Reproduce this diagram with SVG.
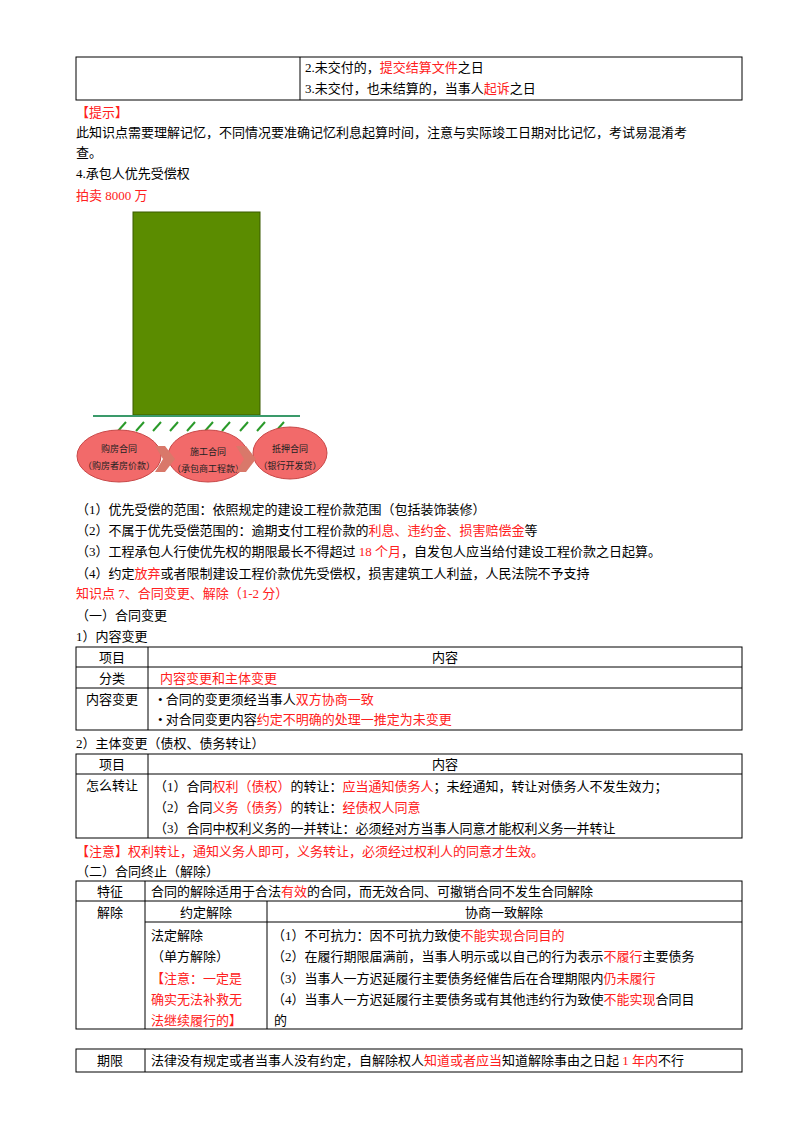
<svg xmlns="http://www.w3.org/2000/svg" width="800" height="1132" viewBox="0 0 800 1132">
<style>
text{font-family:"Liberation Serif","Noto Sans CJK SC",serif;font-size:13px;fill:#000}
.r{fill:#ff2020}
.s{font-family:"Noto Sans CJK SC",sans-serif;font-size:9px;fill:#222}
.b{fill:none;stroke:#000;stroke-width:1}
.h{stroke:#2a9a2a;stroke-width:2}
.e{fill:#f26a6a;stroke:#c84848;stroke-width:1}
.c{fill:#d9786a}
</style>
<rect width="800" height="1132" fill="#fff"/>
<g id="table0">
<rect class="b" x="76" y="57" width="666" height="43"/>
<line class="b" x1="300" y1="57" x2="300" y2="100"/>
<text x="305" y="72">2.未交付的，<tspan class="r">提交结算文件</tspan>之日</text>
<text x="305" y="93">3.未交付，也未结算的，当事人<tspan class="r">起诉</tspan>之日</text>
</g>
<text x="76" y="117" class="r">【提示】</text>
<text x="76" y="137">此知识点需要理解记忆，不同情况要准确记忆利息起算时间，注意与实际竣工日期对比记忆，考试易混淆考</text>
<text x="76" y="157">查。</text>
<text x="76" y="178">4.承包人优先受偿权</text>
<text x="76" y="200" class="r">拍卖 8000 万</text>
<g id="building"><rect x="133" y="212" width="127" height="203" fill="#5b8c00" stroke="#3a5a00"/></g>
<g id="ground">
<line x1="93" y1="416" x2="300" y2="416" stroke="#3a9a6a" stroke-width="2"/>
<g class="h">
<line x1="118" y1="431" x2="126" y2="422"/><line x1="136" y1="431" x2="144" y2="422"/><line x1="153" y1="431" x2="161" y2="422"/><line x1="170" y1="431" x2="178" y2="422"/><line x1="187" y1="431" x2="195" y2="422"/><line x1="205" y1="431" x2="213" y2="422"/><line x1="222" y1="431" x2="230" y2="422"/><line x1="240" y1="431" x2="248" y2="422"/><line x1="257" y1="431" x2="265" y2="422"/><line x1="276" y1="431" x2="284" y2="422"/>
</g>
</g>
<g id="n1"><ellipse class="e" cx="119" cy="456" rx="42" ry="26"/><text class="s" x="119" y="452" text-anchor="middle">购房合同</text><text class="s" x="119" y="469" text-anchor="middle">（购房者房价款）</text></g>
<g id="n2"><ellipse class="e" cx="208" cy="456" rx="40" ry="26"/><text class="s" x="208" y="455" text-anchor="middle">施工合同</text><text class="s" x="208" y="472" text-anchor="middle">（承包商工程款）</text></g>
<g id="n3"><ellipse class="e" cx="290" cy="453" rx="37" ry="26"/><text class="s" x="290" y="452" text-anchor="middle">抵押合同</text><text class="s" x="290" y="469" text-anchor="middle">（银行开发贷）</text></g>
<g id="connectors">
<polygon class="c" points="155,446 165,446 175,459 165,472 155,472 163,459"/>
<polygon class="c" points="236,446 246,446 256,459 246,472 236,472 244,459"/>
</g>
<text x="76" y="514">（1）优先受偿的范围：依照规定的建设工程价款范围（包括装饰装修）</text>
<text x="76" y="535">（2）不属于优先受偿范围的：逾期支付工程价款的<tspan class="r">利息、违约金、损害赔偿金</tspan>等</text>
<text x="76" y="556">（3）工程承包人行使优先权的期限最长不得超过 <tspan class="r">18 个月</tspan>，自发包人应当给付建设工程价款之日起算。</text>
<text x="76" y="578">（4）约定<tspan class="r">放弃</tspan>或者限制建设工程价款优先受偿权，损害建筑工人利益，人民法院不予支持</text>
<text x="76" y="598" class="r">知识点 7、合同变更、解除（1-2 分）</text>
<text x="76" y="620">（一）合同变更</text>
<text x="76" y="641">1）内容变更</text>
<g id="table1">
<rect class="b" x="76" y="647" width="666" height="83"/>
<line class="b" x1="76" y1="667" x2="742" y2="667"/><line class="b" x1="76" y1="688" x2="742" y2="688"/>
<line class="b" x1="148" y1="647" x2="148" y2="730"/>
<text x="112" y="662" text-anchor="middle">项目</text><text x="445" y="662" text-anchor="middle">内容</text>
<text x="112" y="683" text-anchor="middle">分类</text><text x="160" y="683" class="r">内容变更和主体变更</text>
<text x="112" y="704" text-anchor="middle">内容变更</text>
<text x="158" y="704">• 合同的变更须经当事人<tspan class="r">双方协商一致</tspan></text>
<text x="158" y="724">• 对合同变更内容<tspan class="r">约定不明确的处理一推定为未变更</tspan></text>
</g>
<text x="76" y="748">2）主体变更（债权、债务转让）</text>
<g id="table2">
<rect class="b" x="76" y="754" width="666" height="84"/>
<line class="b" x1="76" y1="774" x2="742" y2="774"/>
<line class="b" x1="148" y1="754" x2="148" y2="838"/>
<text x="112" y="769" text-anchor="middle">项目</text><text x="445" y="769" text-anchor="middle">内容</text>
<text x="112" y="790" text-anchor="middle">怎么转让</text>
<text x="154" y="791">（1）合同<tspan class="r">权利（债权）</tspan>的转让：<tspan class="r">应当通知债务人</tspan>；未经通知，转让对债务人不发生效力；</text>
<text x="154" y="812">（2）合同<tspan class="r">义务（债务）</tspan>的转让：<tspan class="r">经债权人同意</tspan></text>
<text x="154" y="833">（3）合同中权利义务的一并转让：必须经对方当事人同意才能权利义务一并转让</text>
</g>
<text x="76" y="856" class="r">【注意】权利转让，通知义务人即可，义务转让，必须经过权利人的同意才生效。</text>
<text x="76" y="876">（二）合同终止（解除）</text>
<g id="table3">
<rect class="b" x="76" y="881" width="666" height="148"/>
<line class="b" x1="76" y1="901" x2="742" y2="901"/>
<line class="b" x1="145" y1="922" x2="742" y2="922"/>
<line class="b" x1="145" y1="881" x2="145" y2="1029"/>
<line class="b" x1="267" y1="901" x2="267" y2="1029"/>
<text x="110" y="896" text-anchor="middle">特征</text>
<text x="151" y="896">合同的解除适用于合法<tspan class="r">有效</tspan>的合同，而无效合同、可撤销合同不发生合同解除</text>
<text x="110" y="917" text-anchor="middle">解除</text>
<text x="206" y="917" text-anchor="middle">约定解除</text>
<text x="504" y="917" text-anchor="middle">协商一致解除</text>
<text x="151" y="940">法定解除</text>
<text x="151" y="961">（单方解除）</text>
<text x="151" y="983" class="r">【注意：一定是</text>
<text x="151" y="1004" class="r">确实无法补救无</text>
<text x="151" y="1025" class="r">法继续履行的】</text>
<text x="272" y="940">（1）不可抗力：因不可抗力致使<tspan class="r">不能实现合同目的</tspan></text>
<text x="272" y="961">（2）在履行期限届满前，当事人明示或以自己的行为表示<tspan class="r">不履行</tspan>主要债务</text>
<text x="272" y="983">（3）当事人一方迟延履行主要债务经催告后在合理期限内<tspan class="r">仍未履行</tspan></text>
<text x="272" y="1004">（4）当事人一方迟延履行主要债务或有其他违约行为致使<tspan class="r">不能实现</tspan>合同目</text>
<text x="274" y="1025">的</text>
</g>
<g id="table4">
<rect class="b" x="76" y="1049" width="666" height="23"/>
<line class="b" x1="145" y1="1049" x2="145" y2="1072"/>
<text x="110" y="1065" text-anchor="middle">期限</text>
<text x="151" y="1065">法律没有规定或者当事人没有约定，自解除权人<tspan class="r">知道或者应当</tspan>知道解除事由之日起 <tspan class="r">1 年内</tspan>不行</text>
</g>
</svg>
